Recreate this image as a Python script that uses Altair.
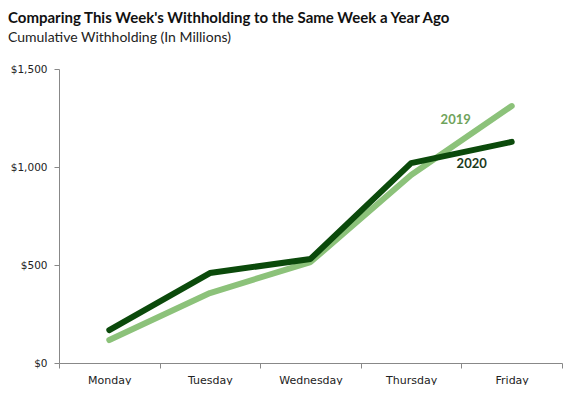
import altair as alt
import pandas as pd

days = ["Monday", "Tuesday", "Wednesday", "Thursday", "Friday"]
w2019 = [117, 357, 515, 959, 1311]
w2020 = [168, 459, 531, 1020, 1128]
series = ["2019", "2020"]
colors = ["#8cc27a", "#0b4a0b"]
label_colors = ["#6fa35b", "#1c3a1c"]
label_values = [1240, 1015]

rows = []
for d, a, b in zip(days, w2019, w2020):
    rows.append({"day": d, "year": "2019", "value": a})
    rows.append({"day": d, "year": "2020", "value": b})
df = pd.DataFrame(rows)

labels = pd.DataFrame({"day": ["Friday", "Friday"], "year": series, "value": label_values})

x = alt.X("day:N", sort=days, title=None,
          scale=alt.Scale(type="band", paddingInner=0, paddingOuter=0),
          axis=alt.Axis(tickBand="extent", labelAngle=0, labelFont="DejaVu Sans",
                        labelFontSize=11, labelColor="#222222", domainColor="#888888",
                        tickColor="#888888", tickSize=5, labelPadding=6))
y = alt.Y("value:Q", title=None,
          scale=alt.Scale(domain=[0, 1500], nice=False),
          axis=alt.Axis(values=[0, 500, 1000, 1500], format="$,.0f", grid=False,
                        labelFont="DejaVu Sans", labelFontSize=10.5, labelColor="#222222",
                        domainColor="#888888", tickColor="#888888", tickSize=5, labelPadding=7))

lines = alt.Chart(df).mark_line(strokeWidth=6, strokeCap="round", strokeJoin="round").encode(
    x=x, y=y,
    color=alt.Color("year:N", scale=alt.Scale(domain=series, range=colors), legend=None),
    order=alt.Order("year:N", sort="ascending"),
)

text2019 = alt.Chart(labels[labels.year == "2019"]).mark_text(
    fontWeight="bold", fontSize=13, font="Lato", dx=-56, color=label_colors[0]
).encode(x=alt.X("day:N", sort=days), y="value:Q", text="year:N")
text2020 = alt.Chart(labels[labels.year == "2020"]).mark_text(
    fontWeight="bold", fontSize=13, font="Lato", dx=-40, color=label_colors[1]
).encode(x=alt.X("day:N", sort=days), y="value:Q", text="year:N")

chart = alt.layer(lines, text2019, text2020).properties(
    width=503, height=294,
    padding={"top": 3, "left": 0, "right": 0, "bottom": 0},
    title=alt.TitleParams(
        text="Comparing This Week's Withholding to the Same Week a Year Ago",
        subtitle="Cumulative Withholding (In Millions)",
        anchor="start", frame="group", dx=-51, offset=19,
        font="Lato", fontSize=15, fontWeight="bold", color="#111111",
        subtitleFont="Lato", subtitleFontSize=14, subtitleColor="#222222",
        subtitlePadding=5,
    ),
).configure_view(stroke=None)

chart.save("out.html", embed_options={"renderer": "svg", "actions": False})
